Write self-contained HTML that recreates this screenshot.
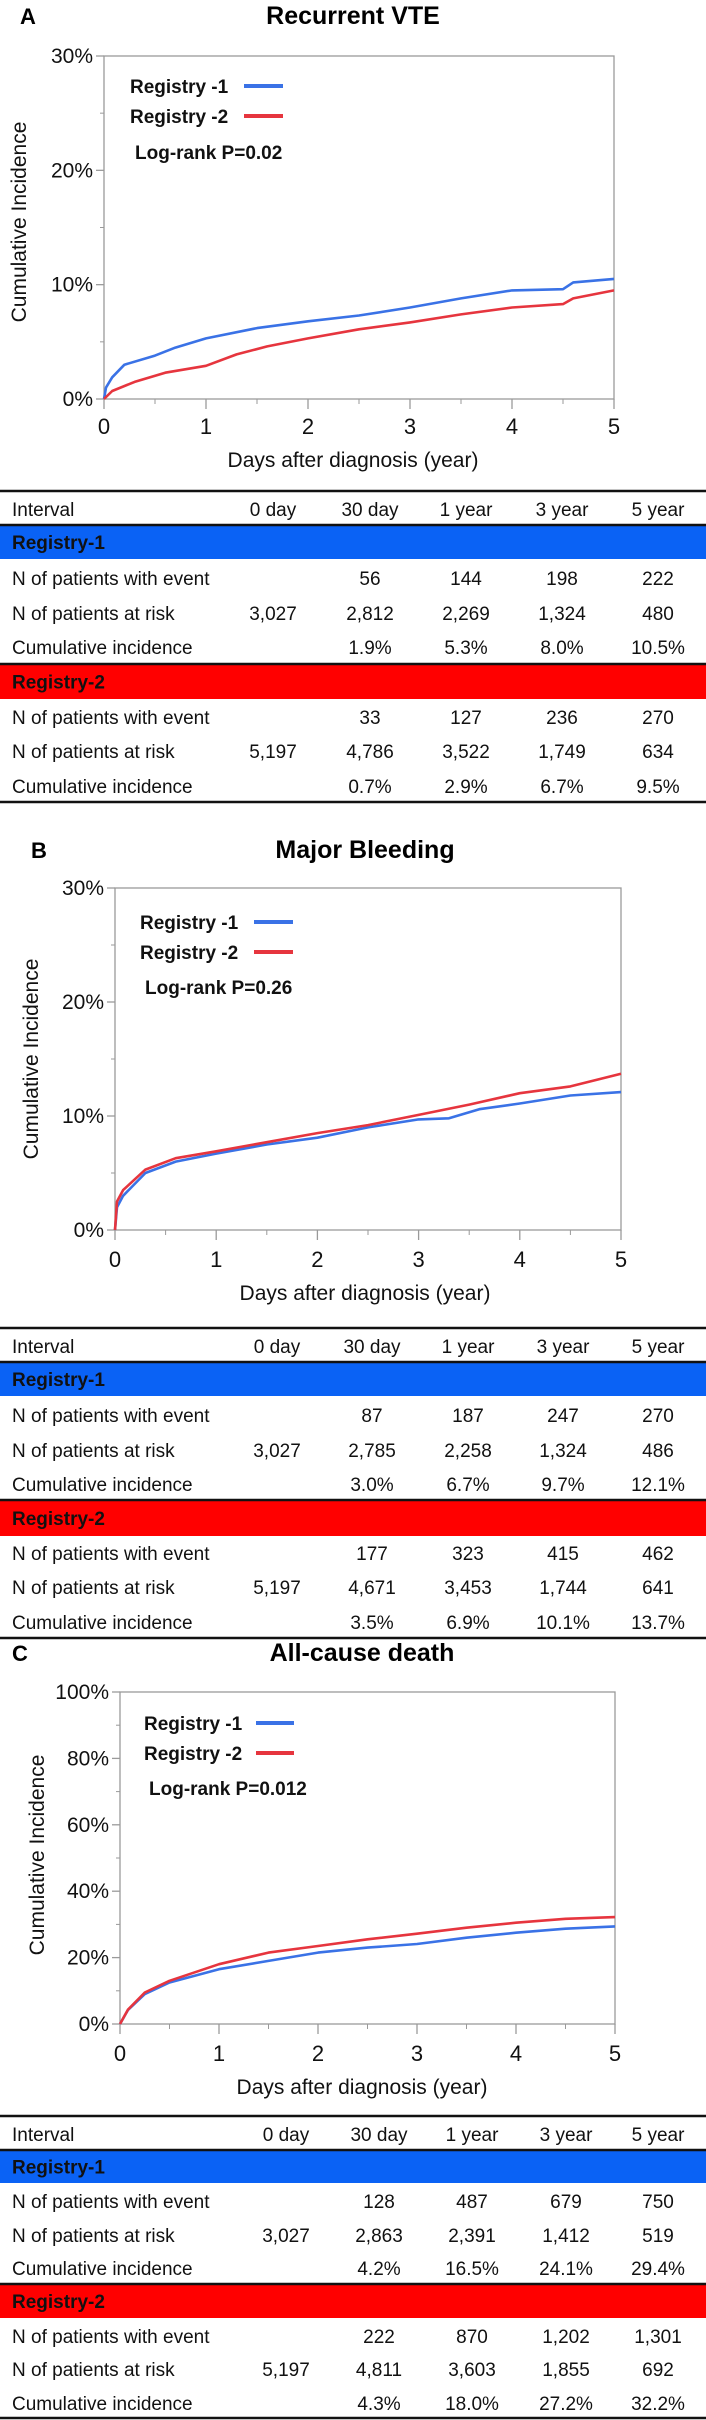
<!DOCTYPE html>
<html><head><meta charset="utf-8"><title>Cumulative incidence curves</title>
<style>
html,body{margin:0;padding:0;background:#fff;}
svg{display:block;font-family:"Liberation Sans Narrow","Liberation Sans",Arial,sans-serif;}
</style></head>
<body>
<svg id="fig" width="706" height="2420" viewBox="0 0 706 2420" xmlns="http://www.w3.org/2000/svg"></svg>
<script>
// ---- Data: curve points (time in years, cumulative incidence %) ----
const vteTimes1 = [0,0.02,0.08,0.2,0.5,0.7,1,1.5,2,2.5,3,3.5,4,4.5,4.6,5];
const vteVals1  = [0,1.0,1.9,3.0,3.8,4.5,5.3,6.2,6.8,7.3,8.0,8.8,9.5,9.6,10.2,10.5];
const vteTimes2 = [0,0.08,0.3,0.6,1,1.3,1.6,2,2.5,3,3.5,4,4.5,4.6,5];
const vteVals2  = [0,0.7,1.5,2.3,2.9,3.9,4.6,5.3,6.1,6.7,7.4,8.0,8.3,8.8,9.5];
const bleedTimes1 = [0,0.02,0.08,0.3,0.6,1,1.5,2,2.5,3,3.3,3.6,4,4.5,5];
const bleedVals1  = [0,2.0,3.0,5.0,6.0,6.7,7.5,8.1,9.0,9.7,9.8,10.6,11.1,11.8,12.1];
const bleedTimes2 = [0,0.02,0.08,0.3,0.6,1,1.5,2,2.5,3,3.5,4,4.5,5];
const bleedVals2  = [0,2.5,3.5,5.3,6.3,6.9,7.7,8.5,9.2,10.1,11.0,12.0,12.6,13.7];
const deathTimes1 = [0,0.08,0.25,0.5,1,1.5,2,2.5,3,3.5,4,4.5,5];
const deathVals1  = [0,4.2,9.0,12.5,16.5,19.0,21.5,23.0,24.1,26.0,27.5,28.7,29.4];
const deathTimes2 = [0,0.08,0.25,0.5,1,1.5,2,2.5,3,3.5,4,4.5,5];
const deathVals2  = [0,4.3,9.5,13.0,18.0,21.5,23.5,25.5,27.2,29.0,30.5,31.7,32.2];
const xTicks = [0,1,2,3,4,5];
const yTicksA = [0,10,20,30];
const yTicksC = [0,20,40,60,80,100];
// ---- Table data ----
const intervals = ["0 day","30 day","1 year","3 year","5 year"];
const rowLabels = ["N of patients with event","N of patients at risk","Cumulative incidence"];
const vteReg1 = [["","56","144","198","222"],["3,027","2,812","2,269","1,324","480"],["","1.9%","5.3%","8.0%","10.5%"]];
const vteReg2 = [["","33","127","236","270"],["5,197","4,786","3,522","1,749","634"],["","0.7%","2.9%","6.7%","9.5%"]];
const bleedReg1 = [["","87","187","247","270"],["3,027","2,785","2,258","1,324","486"],["","3.0%","6.7%","9.7%","12.1%"]];
const bleedReg2 = [["","177","323","415","462"],["5,197","4,671","3,453","1,744","641"],["","3.5%","6.9%","10.1%","13.7%"]];
const deathReg1 = [["","128","487","679","750"],["3,027","2,863","2,391","1,412","519"],["","4.2%","16.5%","24.1%","29.4%"]];
const deathReg2 = [["","222","870","1,202","1,301"],["5,197","4,811","3,603","1,855","692"],["","4.3%","18.0%","27.2%","32.2%"]];

const NS = "http://www.w3.org/2000/svg";
const svg = document.getElementById("fig");
function mk(tag, attrs, parent){
  const e = document.createElementNS(NS, tag);
  for (const k in attrs) e.setAttribute(k, attrs[k]);
  (parent||svg).appendChild(e);
  return e;
}
const BLUE = "#3a72e6", RED = "#e6353e", AX = "#9a9a9a";
const TFS = 19;

function panel(cfg){
  const g = mk("g", {});
  
  
  const sx = v => cfg.x0 + (cfg.x1 - cfg.x0) * v / 5;
  const sy = v => cfg.yb + (cfg.yt - cfg.yb) * v / cfg.ymax;
  let t = mk("text", {x: cfg.letterX, y: cfg.titleY + 8, "font-size": 22, "font-weight": "bold"}, g);
  t.textContent = cfg.letter;
  
  
  t = mk("text", {x: cfg.titleX, y: cfg.titleY + 8, "font-size": 25, "font-weight": "bold", "text-anchor": "middle"}, g);
  t.textContent = cfg.title;
  
  
  const fr = mk("rect", {x: cfg.x0, y: cfg.yt, width: cfg.x1 - cfg.x0, height: cfg.yb - cfg.yt, fill: "none", stroke: AX, "stroke-width": 1.3}, g);
  
  
  const yt = cfg.yTicks;
  const step = yt[1] - yt[0];
  for (let i = 0; i < yt.length; i++){
    const y = sy(yt[i]);
    const tk = mk("line", {x1: cfg.x0 - 8, x2: cfg.x0, y1: y, y2: y, stroke: AX, "stroke-width": 1.3}, g);
    
    
    const lb = mk("text", {x: cfg.x0 - 11, y: y + 7, "font-size": 21, "text-anchor": "end", fill: "#111"}, g);
    lb.textContent = yt[i] + "%";
    
    
    if (i < yt.length - 1){
      const ym = sy(yt[i] + step / 2);
      const mt = mk("line", {x1: cfg.x0 - 4, x2: cfg.x0, y1: ym, y2: ym, stroke: AX, "stroke-width": 1}, g);
      
      
    }
  }
  for (let i = 0; i < xTicks.length; i++){
    const x = sx(xTicks[i]);
    const tk = mk("line", {x1: x, x2: x, y1: cfg.yb, y2: cfg.yb + 10, stroke: AX, "stroke-width": 1.3}, g);
    
    
    const lb = mk("text", {x: x, y: cfg.xLabY + 8, "font-size": 22, "text-anchor": "middle", fill: "#111"}, g);
    lb.textContent = xTicks[i];
    
    
    if (i < xTicks.length - 1){
      const xm = sx(xTicks[i] + 0.5);
      const mt = mk("line", {x1: xm, x2: xm, y1: cfg.yb, y2: cfg.yb + 5, stroke: AX, "stroke-width": 1}, g);
      
      
    }
  }
  t = mk("text", {x: cfg.titleX, y: cfg.xTitleY + 8, "font-size": 21, "text-anchor": "middle", fill: "#111"}, g);
  t.textContent = "Days after diagnosis (year)";
  
  
  t = mk("text", {x: 0, y: 0, "font-size": 21, "text-anchor": "middle", fill: "#111", transform: "translate(" + cfg.yTitleX + "," + cfg.yTitleY + ") rotate(-90)"}, g);
  t.textContent = "Cumulative Incidence";
  
  
  const series = [[cfg.t1, cfg.v1, BLUE, 'registry-1-curve'], [cfg.t2, cfg.v2, RED, 'registry-2-curve']];
  for (const s of series){
    let d = "M" + sx(s[0][0]).toFixed(1) + "," + sy(s[1][0]).toFixed(1);
    for (let i = 1; i < s[0].length; i++){
      d += " L" + sx(s[0][i]).toFixed(1) + "," + sy(s[1][i]).toFixed(1);
    }
    const p = mk("path", {d: d, fill: "none", stroke: s[2], "stroke-width": 2.6, "stroke-linejoin": "round"}, g);
    
    
  }
  const lg = [["Registry -1", BLUE, cfg.legY1, 'legend-entry-registry-1'], ["Registry -2", RED, cfg.legY2, 'legend-entry-registry-2']];
  for (const l of lg){
    const lt = mk("text", {x: cfg.legX, y: l[2] + 7, "font-size": 19, "font-weight": "bold", fill: "#111"}, g);
    lt.textContent = l[0];
    
    
    const ll = mk("line", {x1: cfg.legL1, x2: cfg.legL2, y1: l[2], y2: l[2], stroke: l[1], "stroke-width": 4}, g);
    
    
  }
  t = mk("text", {x: cfg.legX + 5, y: cfg.logY + 7, "font-size": 19, "font-weight": "bold", fill: "#111"}, g);
  t.textContent = cfg.logrank;
  
  
}

function table(cfg){
  const g = mk("g", {});
  
  
  const b1 = mk("rect", {x: 0, y: cfg.hb, width: 706, height: cfg.be - cfg.hb, fill: "#0a62f5"}, g);
  
  
  const b2 = mk("rect", {x: 0, y: cfg.mid, width: 706, height: cfg.re - cfg.mid, fill: "#ff0000"}, g);
  
  
  const lines = [cfg.top, cfg.hb, cfg.mid, cfg.bot];
  for (const y of lines){
    const l = mk("line", {x1: 0, x2: 706, y1: y, y2: y, stroke: "#111", "stroke-width": 2.5}, g);
    
    
  }
  let t = mk("text", {x: 12, y: cfg.hy + 7, "font-size": TFS, fill: "#111"}, g);
  t.textContent = "Interval";
  
  
  for (let i = 0; i < intervals.length; i++){
    const h = mk("text", {x: cfg.cols[i], y: cfg.hy + 7, "font-size": TFS, "text-anchor": "middle", fill: "#111"}, g);
    h.textContent = intervals[i];
    
    
  }
  const groups = [["Registry-1", (cfg.hb + cfg.be) / 2, cfg.r1, cfg.d1], ["Registry-2", (cfg.mid + cfg.re) / 2, cfg.r2, cfg.d2]];
  for (const gr of groups){
    const gt = mk("text", {x: 12, y: gr[1] + 7, "font-size": TFS, "font-weight": "bold", fill: "#111"}, g);
    gt.textContent = gr[0];
    
    
    for (let r = 0; r < 3; r++){
      const rl = mk("text", {x: 12, y: gr[2][r] + 7, "font-size": TFS, fill: "#111"}, g);
      rl.textContent = rowLabels[r];
      
      
      for (let c = 0; c < 5; c++){
        if (!gr[3][r][c]) continue;
        const v = mk("text", {x: cfg.cols[c], y: gr[2][r] + 7, "font-size": TFS, "text-anchor": "middle", fill: "#111"}, g);
        v.textContent = gr[3][r][c];
        
        
      }
    }
  }
}

panel({id:"recurrent-vte", letter:"A", letterX:20, title:"Recurrent VTE", titleX:353, titleY:16,
  x0:104, x1:614, yt:56, yb:399, ymax:30, yTicks:yTicksA, xLabY:426, xTitleY:459, yTitleX:26, yTitleY:222,
  t1:vteTimes1, v1:vteVals1, t2:vteTimes2, v2:vteVals2,
  legX:130, legY1:86, legY2:116, logY:152, legL1:244, legL2:283, logrank:"Log-rank P=0.02"});
table({id:"recurrent-vte", top:491, hy:509, hb:525, be:559, r1:[578,613,647], mid:664, re:699, r2:[717,751,786], bot:802,
  cols:[273,370,466,562,658], d1:vteReg1, d2:vteReg2});

panel({id:"major-bleeding", letter:"B", letterX:31, title:"Major Bleeding", titleX:365, titleY:850,
  x0:115, x1:621, yt:888, yb:1230, ymax:30, yTicks:yTicksA, xLabY:1259, xTitleY:1292, yTitleX:38, yTitleY:1059,
  t1:bleedTimes1, v1:bleedVals1, t2:bleedTimes2, v2:bleedVals2,
  legX:140, legY1:922, legY2:952, logY:987, legL1:254, legL2:293, logrank:"Log-rank P=0.26"});
table({id:"major-bleeding", top:1328, hy:1346, hb:1362, be:1396, r1:[1415,1450,1484], mid:1500, re:1536, r2:[1553,1587,1622], bot:1638,
  cols:[277,372,468,563,658], d1:bleedReg1, d2:bleedReg2});

panel({id:"all-cause-death", letter:"C", letterX:12, title:"All-cause death", titleX:362, titleY:1653,
  x0:120, x1:615, yt:1692, yb:2024, ymax:100, yTicks:yTicksC, xLabY:2053, xTitleY:2086, yTitleX:44, yTitleY:1855,
  t1:deathTimes1, v1:deathVals1, t2:deathTimes2, v2:deathVals2,
  legX:144, legY1:1723, legY2:1753, logY:1788, legL1:256, legL2:294, logrank:"Log-rank P=0.012"});
table({id:"all-cause-death", top:2116, hy:2134, hb:2150, be:2183, r1:[2201,2235,2268], mid:2284, re:2318, r2:[2336,2369,2403], bot:2418,
  cols:[286,379,472,566,658], d1:deathReg1, d2:deathReg2});
</script>
</body></html>
